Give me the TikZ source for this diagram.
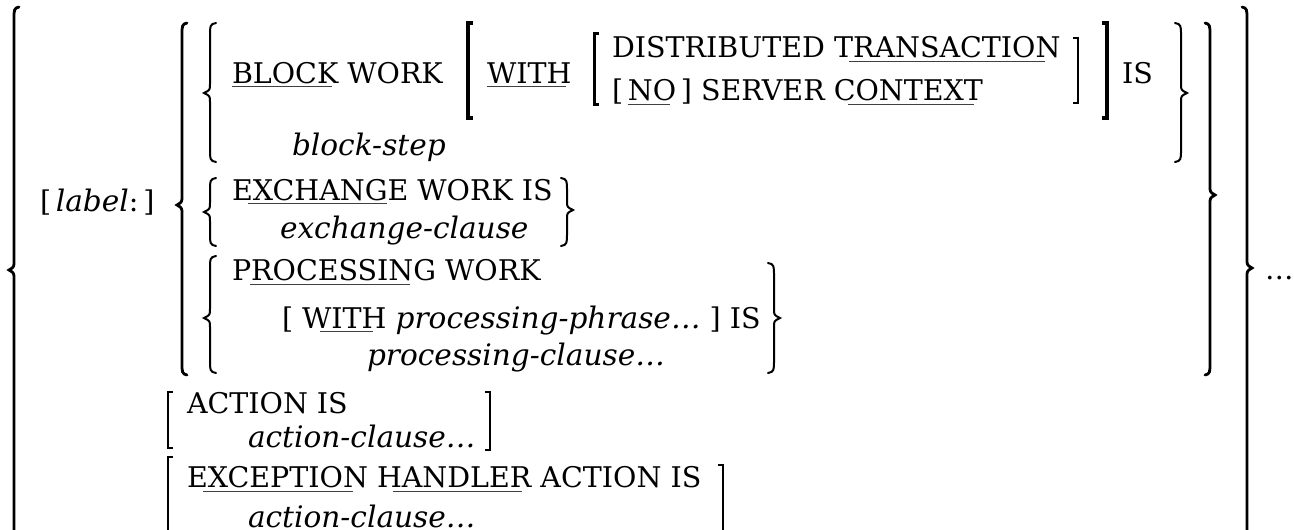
\documentclass[tikz,border=0pt]{standalone}
\usepackage{fontspec}
\setmainfont{DejaVu Serif}
\newcommand\mybracel[5]{% x, top, cusp, bottom, width
  \draw[bracestroke] (#1+#5/2,#2) .. controls (#1,#2+1) and (#1,#2+3) .. (#1,#2+12)
    -- (#1,#3-9) .. controls (#1,#3-3) .. (#1-#5/2,#3)
    .. controls (#1,#3+3) .. (#1,#3+9) -- (#1,#4-12)
    .. controls (#1,#4-3) and (#1,#4-1) .. (#1+#5/2,#4);}
\newcommand\mybracer[5]{% x, top, cusp, bottom, width
  \draw[bracestroke] (#1-#5/2,#2) .. controls (#1,#2+1) and (#1,#2+3) .. (#1,#2+12)
    -- (#1,#3-9) .. controls (#1,#3-3) .. (#1+#5/2,#3)
    .. controls (#1,#3+3) .. (#1,#3+9) -- (#1,#4-12)
    .. controls (#1,#4-3) and (#1,#4-1) .. (#1-#5/2,#4);}
\newcommand\mybrackl[5]{% x, top, bottom, serif, line width
  \draw[line width=#5, line join=miter] (#1+#4,#2) -- (#1,#2) -- (#1,#3) -- (#1+#4,#3);}
\newcommand\mybrackr[5]{%
  \draw[line width=#5, line join=miter] (#1-#4,#2) -- (#1,#2) -- (#1,#3) -- (#1-#4,#3);}
\newcommand\myit[1]{{\fontsize{29.6pt}{30pt}\selectfont\itshape #1}}
\tikzset{
  txt/.style={anchor=base west, inner sep=0pt, outer sep=0pt, font=\fontsize{28.5pt}{30pt}\selectfont},
  bracestroke/.style={line width=2pt, line cap=round},
  uline/.style={line width=0.9pt, black!75},
}
\begin{document}
\begin{tikzpicture}[x=1pt,y=-1pt]
\useasboundingbox (0,0) rectangle (1294,530);
% outer braces
\begin{scope}[bracestroke/.append style={line width=2.8pt}]
\mybracel{14}{7}{270}{560}{10}
\mybracer{1247}{7}{268}{560}{10}
\mybracel{182}{23}{205}{375}{10}
\mybracer{1210}{23}{195}{375}{10}
\end{scope}
% third-level braces
\mybracel{210}{23}{93}{162}{12}
\mybracer{1181}{23}{93}{162}{12}
\mybracel{210}{178}{212}{246}{12}
\mybracer{567}{178}{210}{246}{12}
\mybracel{210}{256}{318}{373}{12}
\mybracer{774}{263}{318}{373}{12}
% brackets
\mybrackl{468}{23}{118}{5}{3.5pt}
\mybrackr{1107}{23}{118}{5}{3.5pt}
\mybrackl{594}{33}{104}{5}{3pt}
\mybrackr{1078}{38}{103}{5}{2.5pt}
\mybrackl{168}{392}{448}{5}{2pt}
\mybrackr{490}{392}{450}{5}{2pt}
\mybrackl{168}{457}{540}{5}{2pt}
\mybrackr{723}{465}{540}{5}{2pt}
% texts
\node[txt] (lbl) at (40,211) {[\,\myit{label}:\,]};
\node[txt] (bw) at (232,83) {BLOCK WORK};
\node[txt] (with1) at (487,83) {WITH};
\node[txt] (dt) at (612,57) {DISTRIBUTED TRANSACTION};
\node[txt] (sc) at (612,100) {[\,NO\,] SERVER CONTEXT};
\node[txt] (is1) at (1122,83) {IS};
\node[txt] (bs) at (292,155) {\myit{block-step}};
\node[txt] (ew) at (232,200) {EXCHANGE WORK IS};
\node[txt] (ec) at (280,238) {\myit{exchange-clause}};
\node[txt] (pw) at (232,280) {PROCESSING WORK};
\node[txt] (pp) at (282,328) {[ WITH \myit{processing-phrase…} ] IS};
\node[txt] (pc) at (367,365) {\myit{processing-clause…}};
\node[txt] (ai) at (187,413) {ACTION IS};
\node[txt] (ac1) at (248,447) {\myit{action-clause…}};
\node[txt] (eh) at (187,487) {EXCEPTION HANDLER ACTION IS};
\node[txt] (ac2) at (248,527) {\myit{action-clause…}};
\node[txt] (dots) at (1265,279) {…};
% underlines
\draw[uline] (232,86) -- (332,86);
\draw[uline] (487,86) -- (566,86);
\draw[uline] (849,61) -- (1045,61);
\draw[uline] (628,104) -- (670,104);
\draw[uline] (848,104) -- (974,104);
\draw[uline] (248,203) -- (387,203);
\draw[uline] (250,284) -- (410,284);
\draw[uline] (320,331) -- (373,331);
\draw[uline] (203,491) -- (353,491);
\draw[uline] (393,491) -- (522,491);
\end{tikzpicture}
\end{document}
